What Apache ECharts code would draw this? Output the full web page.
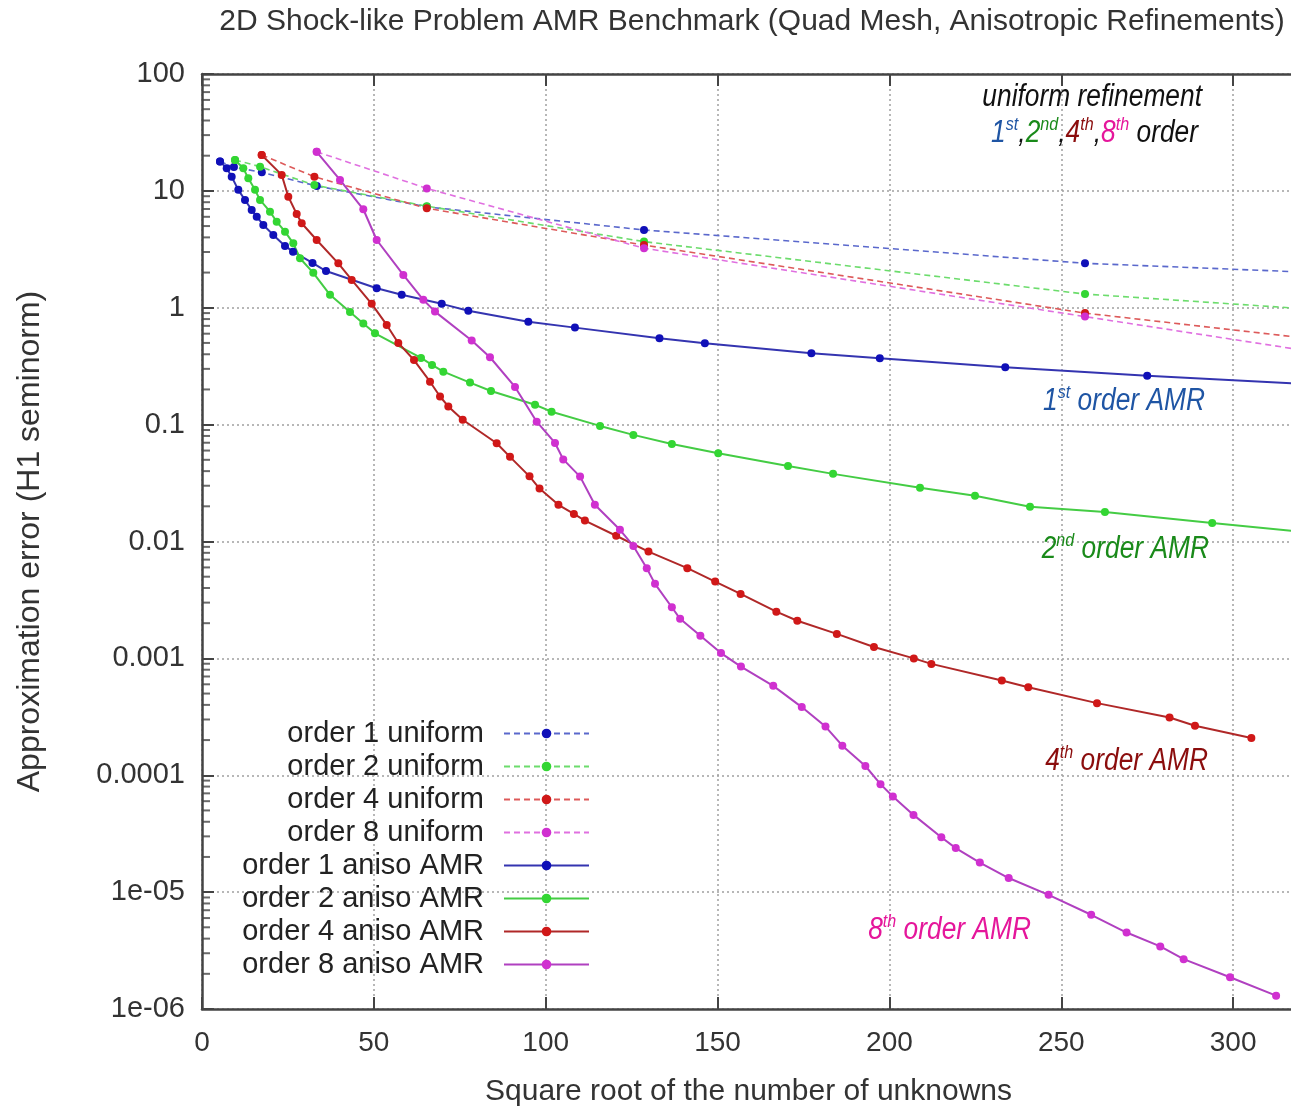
<!DOCTYPE html>
<html><head><meta charset="utf-8">
<script src="https://cdn.jsdelivr.net/npm/echarts@6/dist/echarts.min.js"></script>
<style>html,body{margin:0;padding:0;background:#fff}#c{width:1291px;height:1110px}</style>
</head><body><div id="c"></div>
<script>
// ---- data: [sqrt(#unknowns), H1 error] ----
const uni1 = [[5.24,17.8],[9.3,16.0],[17.4,14.4],[33.4,11.0],[65.4,7.3],[128.6,4.63],[256.9,2.40],[513,1.2]];
const uni2 = [[9.6,18.4],[16.9,16.1],[32.7,11.2],[65.4,7.4],[128.6,3.68],[256.9,1.31],[513,0.41]];
const uni4 = [[17.37,20.3],[32.7,13.2],[65.4,7.1],[128.6,3.44],[256.9,0.90],[513,0.126]];
const uni8 = [[33.37,21.6],[65.4,10.5],[128.6,3.23],[256.9,0.84],[513,0.058]];
const amr1 = [[5.24,17.8],[7.19,15.6],[8.64,13.2],[10.56,10.2],[12.51,8.36],[14.46,6.87],[15.92,6.02],[17.84,5.11],[20.74,4.20],[24.15,3.38],[26.48,3.02],[32.15,2.42],[36.08,2.06],[50.83,1.47],[58.1,1.29],[69.74,1.08],[77.48,0.944],[94.94,0.760],[108.5,0.676],[133.1,0.548],[146.3,0.497],[177.3,0.408],[197.2,0.370],[233.7,0.310],[275.0,0.262],[330,0.215]];
const amr2 = [[9.60,18.4],[12.02,15.6],[13.47,12.8],[15.42,10.2],[16.88,8.36],[19.78,6.64],[21.73,5.45],[24.15,4.48],[26.56,3.56],[28.51,2.65],[32.38,1.99],[37.24,1.29],[43.06,0.92],[46.93,0.734],[50.33,0.605],[63.72,0.372],[66.92,0.324],[70.21,0.284],[77.97,0.229],[84.08,0.194],[96.89,0.148],[101.7,0.129],[115.8,0.0975],[125.5,0.0817],[136.7,0.0684],[150.2,0.0569],[170.5,0.0443],[183.6,0.0379],[208.9,0.0288],[224.9,0.0246],[240.9,0.0198],[262.7,0.0179],[293.9,0.0144],[330,0.0113]];
const amr4 = [[17.37,20.3],[23.19,13.7],[25.11,8.92],[27.55,6.34],[29.01,5.28],[33.37,3.80],[39.66,2.40],[43.56,1.73],[49.37,1.08],[53.74,0.713],[57.11,0.500],[61.68,0.357],[66.34,0.233],[69.25,0.174],[71.66,0.143],[75.85,0.110],[85.74,0.0693],[89.61,0.0530],[95.29,0.0361],[98.2,0.0284],[103.7,0.0206],[108.2,0.0172],[111.4,0.0151],[120.5,0.0112],[129.9,0.0082],[141.2,0.00591],[149.3,0.00454],[156.7,0.00356],[167.1,0.00251],[173.2,0.00210],[184.7,0.00162],[195.5,0.00125],[207.1,0.00100],[212.2,0.000897],[232.7,0.000646],[240.4,0.000567],[260.4,0.000414],[281.5,0.000312],[288.9,0.000265],[305.3,0.000208]];
const amr8 = [[33.37,21.6],[40.15,12.4],[46.93,6.96],[50.83,3.80],[58.57,1.91],[64.39,1.17],[67.79,0.927],[78.47,0.525],[83.79,0.377],[91.07,0.210],[97.38,0.106],[102.7,0.0697],[105.1,0.0504],[110.0,0.0359],[114.3,0.0206],[121.6,0.0126],[125.5,0.00917],[129.4,0.00591],[131.8,0.00434],[136.7,0.00274],[139.1,0.00218],[145.0,0.00156],[151.0,0.00111],[156.8,0.000851],[166.2,0.000582],[174.5,0.000383],[181.4,0.000261],[186.3,0.000179],[193.0,0.000120],[197.4,8.39e-5],[201.0,6.58e-5],[207.0,4.58e-5],[215.1,2.95e-5],[219.3,2.38e-5],[226.3,1.79e-5],[234.7,1.32e-5],[246.3,9.48e-6],[258.7,6.40e-6],[269.0,4.51e-6],[278.8,3.43e-6],[285.6,2.67e-6],[299.1,1.87e-6],[312.5,1.30e-6]];

const seriesNames = ['order 1 uniform','order 2 uniform','order 4 uniform','order 8 uniform',
  'order 1 aniso AMR','order 2 aniso AMR','order 4 aniso AMR','order 8 aniso AMR'];
const yTickLabels = ['1e-06','1e-05','0.0001','0.001','0.01','0.1','1','10','100'];
const yMinorTicks = [];
for (let e = -6; e < 2; e++) for (let m = 2; m <= 9; m++) yMinorTicks.push(m * Math.pow(10, e));

const FONT = '"Liberation Sans", Arial, sans-serif';
const NARROW = '"Liberation Sans Narrow", "Liberation Sans", sans-serif';

function mk(name, data, marker, line, dashed) {
  return {
    name, type: 'line', data, symbol: 'circle', symbolSize: 8,
    showSymbol: true, clip: true, animation: false, z: dashed ? 2 : 3,
    lineStyle: { color: line, width: dashed ? 1.6 : 2, type: dashed ? [6, 4] : 'solid' },
    itemStyle: { color: marker },
    emphasis: { disabled: true }
  };
}

const rich = {
  b: { fontSize: 31, fontStyle: 'italic', fontFamily: NARROW, fill: '#1f55a4', lineHeight: 36 },
  bs: { fontSize: 19, fontStyle: 'italic', fontFamily: NARROW, fill: '#1f55a4', lineHeight: 22, verticalAlign: 'top' },
  g: { fontSize: 31, fontStyle: 'italic', fontFamily: NARROW, fill: '#1a8a1a', lineHeight: 36 },
  gs: { fontSize: 19, fontStyle: 'italic', fontFamily: NARROW, fill: '#1a8a1a', lineHeight: 22, verticalAlign: 'top' },
  r: { fontSize: 31, fontStyle: 'italic', fontFamily: NARROW, fill: '#8b0d0d', lineHeight: 36 },
  rs: { fontSize: 19, fontStyle: 'italic', fontFamily: NARROW, fill: '#8b0d0d', lineHeight: 22, verticalAlign: 'top' },
  p: { fontSize: 31, fontStyle: 'italic', fontFamily: NARROW, fill: '#e5169b', lineHeight: 36 },
  ps: { fontSize: 19, fontStyle: 'italic', fontFamily: NARROW, fill: '#e5169b', lineHeight: 22, verticalAlign: 'top' },
  k: { fontSize: 31, fontStyle: 'italic', fontFamily: NARROW, fill: '#111', lineHeight: 36 }
};

function ann(x, y, text) {
  return { type: 'text', x, y, scaleX: 0.85, z: 100, style: { text, rich, align: 'right', verticalAlign: 'middle',
    fontSize: 31, fontStyle: 'italic', fontFamily: NARROW } };
}

const chart = echarts.init(document.getElementById('c'), null, { renderer: 'canvas' });
chart.setOption({
  animation: false,
  backgroundColor: '#fff',
  grid: { left: 202, top: 74, right: -4, bottom: 101, containLabel: false, outerBoundsMode: 'none' },
  xAxis: [{
    type: 'value', min: 0, max: 318, interval: 50, position: 'bottom',
    name: 'Square root of the number of unknowns', nameLocation: 'middle', nameGap: 68,
    nameTextStyle: { fontSize: 30, fontFamily: FONT, color: '#333' },
    axisLine: { show: true, lineStyle: { color: '#444', width: 2.5 } },
    axisTick: { show: true, inside: true, length: 12, lineStyle: { color: '#444', width: 2 } },
    axisLabel: { fontSize: 28, fontFamily: FONT, color: '#333', margin: 20, showMaxLabel: false },
    splitLine: { show: true, lineStyle: { color: '#a0a0a0', type: [2, 3], width: 1.5 } }
  }, {
    type: 'value', min: 0, max: 318, interval: 50, position: 'top',
    axisLine: { show: true, lineStyle: { color: '#444', width: 2.5 } },
    axisTick: { show: true, inside: true, length: 12, lineStyle: { color: '#444', width: 2 } },
    axisLabel: { show: false }, splitLine: { show: false }
  }],
  yAxis: [{
    type: 'log', logBase: 10, min: 1e-6, max: 100, interval: 1, splitNumber: 8,
    name: 'Approximation error (H1 seminorm)', nameLocation: 'middle', nameGap: 156,
    nameTextStyle: { fontSize: 32, fontFamily: FONT, color: '#333' },
    axisLine: { show: true, lineStyle: { color: '#444', width: 2.5 } },
    axisTick: { show: true, inside: true, length: 12, lineStyle: { color: '#444', width: 2 } },
    axisLabel: { fontSize: 29, fontFamily: FONT, color: '#333', margin: 17,
      formatter: v => yTickLabels[Math.round(Math.log10(v)) + 6] },
    splitLine: { show: true, lineStyle: { color: '#a0a0a0', type: [2, 3], width: 1.5 } }
  }],
  legend: {
    orient: 'vertical', align: 'right', right: 696, top: 714,
    itemWidth: 85, itemHeight: 12, itemGap: 4,
    textStyle: { fontSize: 29, fontFamily: FONT, color: '#222', lineHeight: 28, padding: [0, 15, 0, 0] },
    data: seriesNames, selectedMode: false
  },
  graphic: [
    { type: 'text', x: 752, y: 22, style: { text: '2D Shock-like Problem AMR Benchmark (Quad Mesh, Anisotropic Refinements)',
      align: 'center', verticalAlign: 'middle', fontSize: 30, fontFamily: FONT, fill: '#333' } },
    ann(1202, 97, '{k|uniform refinement}'),
    ann(1198, 133, '{b|1}{bs|st}{k|,}{g|2}{gs|nd}{k|,}{r|4}{rs|th}{k|,}{p|8}{ps|th}{k| order}'),
    ann(1205, 401, '{b|1}{bs|st}{b| order AMR}'),
    ann(1209, 549, '{g|2}{gs|nd}{g| order AMR}'),
    ann(1208, 761, '{r|4}{rs|th}{r| order AMR}'),
    ann(1031, 930, '{p|8}{ps|th}{p| order AMR}')
  ],
  series: [
    mk(seriesNames[0], uni1, '#1010b8', '#5a68cc', true),
    mk(seriesNames[1], uni2, '#33d633', '#6cdc6c', true),
    mk(seriesNames[2], uni4, '#d01818', '#dd5a5a', true),
    mk(seriesNames[3], uni8, '#d030d0', '#e070e0', true),
    mk(seriesNames[4], amr1, '#1010b8', '#3434b0', false),
    mk(seriesNames[5], amr2, '#33d633', '#44cc44', false),
    mk(seriesNames[6], amr4, '#d01818', '#b02828', false),
    mk(seriesNames[7], amr8, '#d030d0', '#b040c0', false),
    {
      name: 'minor ticks', type: 'scatter', silent: true, clip: false, z: 6, animation: false,
      data: yMinorTicks.map(v => [0, v]),
      symbol: 'rect', symbolSize: [8, 2], symbolOffset: [4, 0],
      itemStyle: { color: '#444' }, emphasis: { disabled: true }, tooltip: { show: false }
    }
  ]
});
</script></body></html>
